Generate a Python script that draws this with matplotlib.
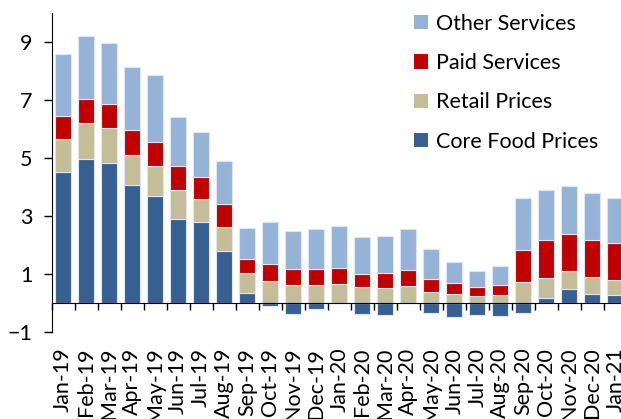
import numpy as np
import matplotlib
matplotlib.use('Agg')
import matplotlib.pyplot as plt
from matplotlib.ticker import FixedLocator

plt.rcParams['font.family'] = ['Lato', 'DejaVu Sans']

# 月份
months = ['Jan-19', 'Feb-19', 'Mar-19', 'Apr-19', 'May-19', 'Jun-19', 'Jul-19', 'Aug-19',
          'Sep-19', 'Oct-19', 'Nov-19', 'Dec-19', 'Jan-20', 'Feb-20', 'Mar-20', 'Apr-20',
          'May-20', 'Jun-20', 'Jul-20', 'Aug-20', 'Sep-20', 'Oct-20', 'Nov-20', 'Dec-20', 'Jan-21']

core_food = [4.53, 4.98, 4.84, 4.07, 3.69, 2.90, 2.80, 1.80, 0.37, -0.08, -0.37, -0.19, 0.0,
             -0.36, -0.41, 0.0, -0.34, -0.48, -0.39, -0.44, -0.34, 0.19, 0.49, 0.33, 0.30]
retail = [1.13, 1.23, 1.19, 1.04, 1.05, 1.00, 0.79, 0.83, 0.66, 0.77, 0.64, 0.62, 0.66,
          0.55, 0.53, 0.59, 0.40, 0.33, 0.25, 0.29, 0.74, 0.68, 0.61, 0.56, 0.50]
paid = [0.79, 0.82, 0.83, 0.86, 0.82, 0.83, 0.77, 0.78, 0.48, 0.59, 0.54, 0.56, 0.56,
        0.46, 0.50, 0.55, 0.45, 0.38, 0.31, 0.35, 1.09, 1.31, 1.29, 1.29, 1.28]
other = [2.13, 2.18, 2.09, 2.15, 2.28, 1.67, 1.55, 1.50, 1.09, 1.45, 1.30, 1.38, 1.45,
         1.26, 1.28, 1.41, 1.03, 0.71, 0.55, 0.63, 1.78, 1.71, 1.64, 1.62, 1.54]

series = [('Core Food Prices', core_food, '#376092'),
          ('Retail Prices', retail, '#C4BD97'),
          ('Paid Services', paid, '#C00000'),
          ('Other Services', other, '#95B3D7')]

fig = plt.figure(figsize=(6.21, 4.19), dpi=100)
ax = fig.add_axes([0.0832, 0.2069, 0.926, 0.7628])

x = np.arange(len(months))
pos_base = np.zeros(len(months))
neg_base = np.zeros(len(months))
handles = []
for name, vals, col in series:
    v = np.array(vals)
    bottom = np.where(v >= 0, pos_base, neg_base)
    b = ax.bar(x, v, 0.71, bottom=bottom, color=col, edgecolor='#dde6f2', linewidth=0.8,
               label=name, zorder=2)
    handles.append(b)
    pos_base = pos_base + np.where(v >= 0, v, 0)
    neg_base = neg_base + np.where(v < 0, v, 0)

ax.set_xlim(-0.5, len(months) - 0.5)
ax.set_ylim(-1, 10)
ax.set_yticks([-1, 1, 3, 5, 7, 9])

ax.spines['top'].set_visible(False)
ax.spines['right'].set_visible(False)
ax.spines['bottom'].set_position(('data', 0))
ax.spines['bottom'].set_zorder(3)

ax.set_xticks(x)
ax.set_xticklabels(months, rotation=90)
ax.xaxis.set_minor_locator(FixedLocator(np.arange(len(months) + 1) - 0.5))
ax.tick_params(axis='x', which='major', length=0, pad=32, labelsize=15.5)
ax.tick_params(axis='x', which='minor', length=5, width=1, direction='out')
ax.tick_params(axis='y', length=6, width=1, pad=8, labelsize=15.5)

# 图例
h = handles[::-1]
leg = ax.legend(h, [hh.get_label() for hh in h], loc='upper left', bbox_to_anchor=(0.596, 1.058),
                frameon=False, fontsize=15.5, handlelength=0.65, handleheight=0.65,
                handletextpad=0.4, labelspacing=0.9)
for p in leg.get_patches():
    p.set_edgecolor('none')

fig.savefig('out.png', dpi=100)
